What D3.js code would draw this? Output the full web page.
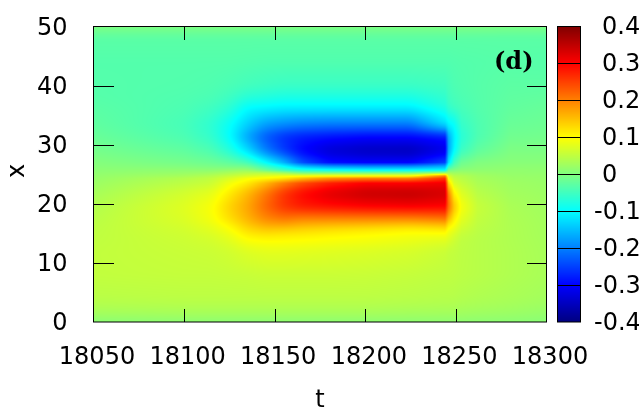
<!DOCTYPE html>
<html>
<head>
<meta charset="utf-8">
<script src="https://cdn.jsdelivr.net/npm/d3@7"></script>
<style>
html, body { margin: 0; padding: 0; background: #fff; overflow: hidden; }
#wrap { position: relative; width: 639px; height: 416px; }
canvas, svg { position: absolute; left: 0; top: 0; }
text { font-family: "DejaVu Sans", sans-serif; fill: #000; }
</style>
</head>
<body>
<div id="wrap"><canvas id="heat" width="639" height="416"></canvas><svg width="639" height="416"></svg></div>
<script>
// grid positions the field was read at
var tGrid = [18050, 18100, 18115, 18125, 18135, 18145, 18155, 18165, 18180, 18200, 18225, 18244, 18246, 18249, 18253, 18262, 18280, 18300];
var xGrid = [0, 2, 4, 8, 12, 14, 15.2, 16, 17.5, 19.5, 21.8, 23.5, 24.3, 24.7, 25.2, 25.7, 26.4, 27, 29, 31.3, 33.3, 36.3, 38, 40, 44, 48, 50];

// one list per t column, bottom (x=0) to top (x=50)
var field = [
  [.01,.033,.045,.052,.052,.05,.049,.048,.045,.04,.03,.022,.018,.016,.013,.01,.006,.003,-.008,-.018,-.025,-.03,-.033,-.034,-.035,-.03,-.002],
  [.012,.035,.047,.054,.057,.06,.063,.066,.072,.075,.065,.048,.04,.03,.02,.012,0,-.008,-.025,-.04,-.045,-.04,-.038,-.036,-.035,-.03,-.002],
  [.012,.035,.047,.054,.059,.066,.074,.08,.092,.095,.08,.058,.05,.04,.025,.01,-.005,-.015,-.04,-.06,-.065,-.05,-.042,-.038,-.035,-.03,-.002],
  [.012,.035,.047,.055,.064,.078,.09,.1,.125,.135,.115,.09,.07,.055,.035,.015,-.01,-.025,-.07,-.098,-.095,-.065,-.052,-.042,-.035,-.03,-.002],
  [.012,.035,.047,.056,.074,.1,.12,.135,.16,.17,.155,.115,.095,.07,.045,.02,-.015,-.045,-.125,-.17,-.14,-.1,-.07,-.048,-.036,-.03,-.002],
  [.012,.035,.047,.058,.079,.105,.13,.155,.195,.22,.205,.155,.105,.08,.045,-.015,-.06,-.1,-.2,-.23,-.18,-.105,-.075,-.052,-.037,-.03,-.002],
  [.012,.035,.047,.058,.079,.104,.125,.155,.21,.26,.26,.2,.12,.09,.03,-.05,-.105,-.16,-.255,-.265,-.195,-.11,-.08,-.055,-.037,-.03,-.002],
  [.012,.035,.047,.058,.078,.102,.122,.145,.2,.28,.295,.24,.15,.095,0,-.075,-.16,-.24,-.3,-.28,-.205,-.11,-.08,-.055,-.037,-.03,-.002],
  [.012,.035,.047,.058,.076,.098,.115,.138,.2,.29,.325,.275,.185,.1,0,-.09,-.19,-.29,-.335,-.29,-.21,-.11,-.08,-.055,-.037,-.03,-.002],
  [.012,.035,.047,.057,.073,.094,.108,.132,.2,.3,.345,.3,.2,.1,0,-.1,-.2,-.3,-.35,-.3,-.21,-.11,-.08,-.055,-.037,-.03,-.002],
  [.012,.033,.045,.054,.068,.086,.1,.122,.2,.305,.35,.3,.2,.1,0,-.1,-.2,-.3,-.355,-.3,-.21,-.11,-.08,-.055,-.037,-.03,-.002],
  [.012,.032,.043,.05,.058,.078,.103,.13,.21,.3,.335,.31,.26,.2,.03,-.1,-.17,-.25,-.32,-.285,-.13,-.075,-.062,-.05,-.037,-.03,-.002],
  [.012,.032,.043,.05,.054,.072,.09,.1,.16,.22,.2,.13,.09,.07,.03,-.01,-.07,-.12,-.17,-.17,-.11,-.06,-.05,-.045,-.037,-.03,-.002],
  [.012,.032,.042,.049,.052,.062,.075,.09,.115,.15,.11,.07,.055,.045,.025,0,-.03,-.05,-.105,-.115,-.098,-.052,-.045,-.04,-.036,-.03,-.002],
  [.012,.03,.04,.047,.048,.05,.058,.066,.08,.095,.075,.055,.045,.04,.025,.01,-.005,-.015,-.055,-.07,-.06,-.045,-.04,-.037,-.035,-.03,-.002],
  [.011,.028,.037,.044,.044,.044,.046,.048,.052,.056,.045,.035,.03,.027,.02,.012,.005,0,-.025,-.04,-.04,-.035,-.034,-.033,-.034,-.03,-.002],
  [.01,.025,.033,.038,.038,.037,.037,.037,.036,.034,.028,.024,.021,.019,.016,.014,.01,.006,-.002,-.012,-.018,-.024,-.026,-.028,-.032,-.03,-.004],
  [.008,.02,.028,.032,.031,.03,.029,.029,.028,.026,.023,.02,.018,.017,.015,.013,.01,.006,-.002,-.01,-.015,-.02,-.024,-.028,-.033,-.03,-.004]
];

var tTicks = [18050, 18100, 18150, 18200, 18250, 18300];
var xTicks = [0, 10, 20, 30, 40, 50];
var cbTicks = [-0.4, -0.3, -0.2, -0.1, 0, 0.1, 0.2, 0.3, 0.4];
var cbLabels = ["-0.4", "-0.3", "-0.2", "-0.1", "0", "0.1", "0.2", "0.3", "0.4"];
var palette = ["#000080", "#0000ff", "#0080ff", "#00ffff", "#80ff80", "#ffff00", "#ff8000", "#ff0000", "#800000"];

var svg = d3.select("svg");
var fontSize = 24;

// scales
var x = d3.scaleLinear().domain([18050, 18300]).range([93.5, 546.5]);
var y = d3.scaleLinear().domain([0, 50]).range([322, 26.5]);
var cy = d3.scaleLinear().domain([-0.4, 0.4]).range([322, 26.5]);
var color = d3.scaleLinear().domain(cbTicks).range(palette);

// value at (t, xv), linear between the grid lines
function lookup(t, xv) {
  var i = Math.min(Math.max(d3.bisectRight(tGrid, t) - 1, 0), tGrid.length - 2);
  var j = Math.min(Math.max(d3.bisectRight(xGrid, xv) - 1, 0), xGrid.length - 2);
  var a = (t - tGrid[i]) / (tGrid[i + 1] - tGrid[i]);
  var b = (xv - xGrid[j]) / (xGrid[j + 1] - xGrid[j]);
  var v0 = field[i][j] * (1 - a) + field[i + 1][j] * a;
  var v1 = field[i][j + 1] * (1 - a) + field[i + 1][j + 1] * a;
  return v0 * (1 - b) + v1 * b;
}

// round off the grid kinks, but keep the two sharp edges (x~25 and t~18245)
var steps = [-1, -0.5, 0, 0.5, 1];
function smooth(t, xv) {
  var dt = t < 18228 ? 3 : 0;
  var dx = (xv < 22.7 || xv > 27.8) ? 0.7 : 0;
  var sum = 0;
  steps.forEach(function(a) {
    steps.forEach(function(b) {
      sum += lookup(t + a * dt, xv + b * dx);
    });
  });
  return sum / 25;
}

// heat map
var ctx = document.getElementById("heat").getContext("2d");
for (var px = 94; px < 546; px++) {
  for (var py = 27; py < 322; py++) {
    ctx.fillStyle = color(smooth(x.invert(px + 0.5), y.invert(py + 0.5)));
    ctx.fillRect(px, py, 1, 1);
  }
}

// colour box
for (var cb = 27; cb < 322; cb++) {
  ctx.fillStyle = color(cy.invert(cb + 0.5));
  ctx.fillRect(558, cb, 23, 1);
}

// frames
svg.append("rect").attr("x", 93.5).attr("y", 26.5).attr("width", 453).attr("height", 295.5)
  .attr("fill", "none").attr("stroke", "#000");
svg.append("rect").attr("x", 557.5).attr("y", 26.5).attr("width", 23).attr("height", 295.5)
  .attr("fill", "none").attr("stroke", "#000");

// axes, ticks point inward; the end ticks would only double the frame
function style(g) {
  g.select(".domain").remove();
  g.selectAll("line").attr("stroke", "#000").attr("shape-rendering", "crispEdges");
  g.selectAll(".tick").filter(function(d, i, n) { return i == 0 || i == n.length - 1; })
    .select("line").remove();
  g.selectAll("text").style("font-size", fontSize + "px").attr("fill", "#000");
}

svg.append("g").attr("transform", "translate(0,322)")
  .call(d3.axisBottom(x).tickValues(tTicks).tickFormat(d3.format("d")).tickSize(-13).tickPadding(0))
  .call(style)
  .selectAll("text").attr("x", 3).attr("y", 42).attr("dy", null);

svg.append("g").attr("transform", "translate(0,26.5)")
  .call(d3.axisTop(x).tickValues(tTicks).tickFormat("").tickSize(-13))
  .call(style);

svg.append("g").attr("transform", "translate(93.5,0)")
  .call(d3.axisLeft(y).tickValues(xTicks).tickFormat(d3.format("d")).tickSize(-20))
  .call(style)
  .selectAll("text").attr("x", -26).attr("y", -1).attr("dy", "0.36em");

svg.append("g").attr("transform", "translate(546.5,0)")
  .call(d3.axisRight(y).tickValues(xTicks).tickFormat("").tickSize(-20))
  .call(style);

// colour box lines run across the whole box
svg.append("g").attr("transform", "translate(580.5,0)")
  .call(d3.axisRight(cy).tickValues(cbTicks).tickFormat("").tickSize(-23))
  .call(style);

svg.append("g").selectAll("text").data(cbTicks).enter().append("text")
  .attr("x", function(d) { return d < 0 ? 594 : 602; })
  .attr("y", function(d) { return cy(d) - 1; })
  .attr("dy", "0.36em")
  .style("font-size", fontSize + "px")
  .text(function(d, i) { return cbLabels[i]; });

// titles
svg.append("text").attr("x", 320).attr("y", 407).attr("text-anchor", "middle")
  .style("font-size", fontSize + "px").text("t");
svg.append("text").attr("transform", "translate(24,171) rotate(-90)").attr("text-anchor", "middle")
  .style("font-size", fontSize + "px").text("x");
svg.append("text").attr("x", 494).attr("y", 69)
  .style("font-family", "'DejaVu Serif', serif").style("font-weight", "bold")
  .style("font-size", "24px").text("(d)");
</script>
</body>
</html>
